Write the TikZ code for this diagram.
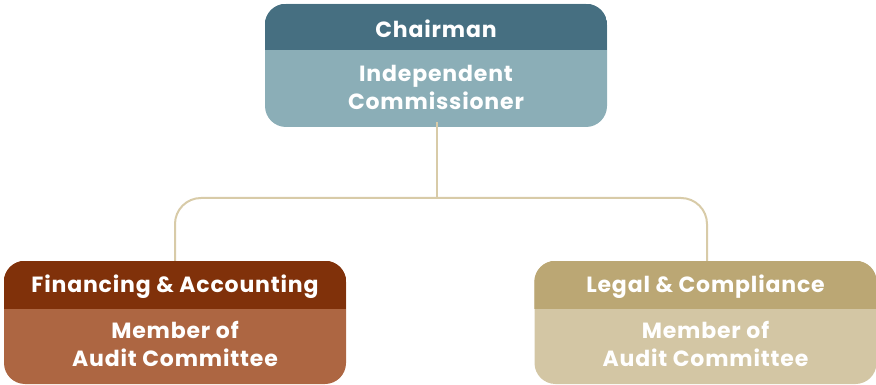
\documentclass[tikz,border=0pt]{standalone}
\usepackage{fontspec}
\setmainfont{Poppins}[LetterSpace=3.8]
\definecolor{tophead}{HTML}{466F81}
\definecolor{topbody}{HTML}{8BAEB7}
\definecolor{lefthead}{HTML}{80310A}
\definecolor{leftbody}{HTML}{AD6642}
\definecolor{righthead}{HTML}{BBA774}
\definecolor{rightbody}{HTML}{D3C6A4}
\definecolor{connc}{HTML}{D8CBA8}
\tikzset{
  box/.style={rectangle, rounded corners=21pt, minimum width=342pt, minimum height=123pt, inner sep=0pt},
  lbl/.style={text=white, font=\fontsize{22}{28}\selectfont\bfseries, align=center, inner sep=0pt},
  conn/.style={draw=connc, line width=2pt}
}
\begin{document}
\begin{tikzpicture}[x=1pt,y=-1pt]
\useasboundingbox (0,0) rectangle (876,385);
% top box
\node[box, fill=topbody] (top) at (436,65.5) {};
\begin{scope}
  \clip[rounded corners=21pt] (top.south west) rectangle (top.north east);
  \fill[tophead] (top.north west) rectangle ([yshift=-46pt]top.north east);
\end{scope}
% left box
\node[box, fill=leftbody] (fa) at (175,322.5) {};
\begin{scope}
  \clip[rounded corners=21pt] (fa.south west) rectangle (fa.north east);
  \fill[lefthead] (fa.north west) rectangle ([yshift=-48pt]fa.north east);
\end{scope}
% right box
\node[box, fill=rightbody] (lc) at (705.5,322.5) {};
\begin{scope}
  \clip[rounded corners=21pt] (lc.south west) rectangle (lc.north east);
  \fill[righthead] (lc.north west) rectangle ([yshift=-48pt]lc.north east);
\end{scope}
% texts
\node[lbl] (t1) at (436,29) {Chairman};
\node[lbl] (t2) at (436,87) {Independent\\Commissioner};
\node[lbl] (l1) at (175,287) {Financing \& Accounting};
\node[lbl] (l2) at (175,344) {Member of\\Audit Committee};
\node[lbl] (r1) at (705.5,287) {Legal \& Compliance};
\node[lbl] (r2) at (705.5,344) {Member of\\Audit Committee};
% connectors
\coordinate (mid) at (437,198);
\draw[conn] ([xshift=1pt,yshift=5pt]top.south) -- (mid);
\draw[conn, rounded corners=26pt] (mid) -| (fa.north);
\draw[conn, rounded corners=26pt] (mid) -| ([xshift=1.5pt]lc.north);
\end{tikzpicture}
\end{document}
